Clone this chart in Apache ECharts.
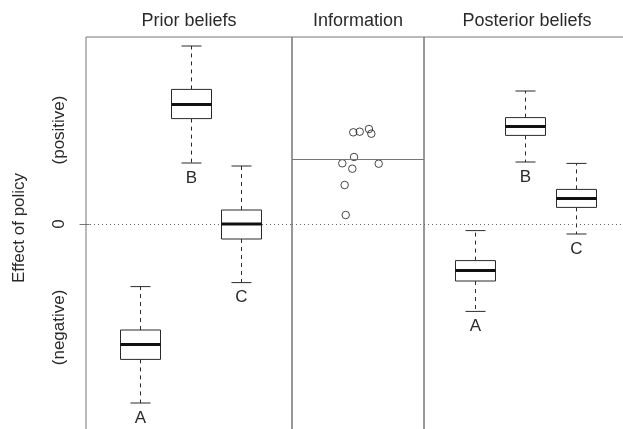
<!DOCTYPE html>
<html>
<head>
<meta charset="utf-8">
<script src="https://cdn.jsdelivr.net/npm/echarts@6/dist/echarts.min.js"></script>
<style>
  html, body { margin: 0; padding: 0; background: #fff; }
  #chart { width: 623px; height: 429px; }
</style>
</head>
<body>
<div id="chart"></div>
<script>
// Panel titles
const panelTitles = ['Prior beliefs', 'Information', 'Posterior beliefs'];

// Policies and their horizontal slots in the belief panels
const policyNames = ['A', 'B', 'C'];
const policySlots = [1, 2, 3];

// Box summaries: [lower whisker, lower quartile, median, upper quartile, upper whisker]
const priorA = [-8.95, -6.77, -6.03, -5.30, -3.13];
const priorB = [3.05, 5.27, 5.98, 6.73, 8.90];
const priorC = [-2.93, -0.75, 0.00, 0.70, 2.90];

const posteriorA = [-4.37, -2.85, -2.33, -1.83, -0.33];
const posteriorB = [3.10, 4.43, 4.88, 5.32, 6.65];
const posteriorC = [-0.50, 0.83, 1.27, 1.73, 3.03];

// Observed pieces of information (jittered horizontal position, effect)
const infoX = [0.464, 0.513, 0.583, 0.601, 0.470, 0.381, 0.657, 0.457, 0.399, 0.407];
const infoY = [4.585, 4.615, 4.75, 4.515, 3.35, 3.035, 3.015, 2.765, 1.95, 0.45];
const infoLevel = 3.23;

// Effect axis
const effectMin = -11.65;
const effectMax = 9.35;
const effectTickValues = [-5.17, 0, 4.7];
const effectTickLabels = ['(negative)', '0', '(positive)'];

const FONT = '"Liberation Sans", Arial, Helvetica, sans-serif';
const FRAME = '#777';
const INK = '#2a2a2a';

function boxRows(boxes) {
  return boxes.map((b, i) => [policySlots[i]].concat(b).concat([policyNames[i]]));
}

function renderBox(params, api) {
  const x = api.value(0);
  const lo = api.coord([x, api.value(1)]);
  const q1 = api.coord([x, api.value(2)]);
  const md = api.coord([x, api.value(3)]);
  const q3 = api.coord([x, api.value(4)]);
  const hi = api.coord([x, api.value(5)]);
  const cx = Math.round(lo[0]) + 0.5;
  const boxHalf = 20;
  const capHalf = 10;
  const dash = { stroke: INK, lineWidth: 1, lineDash: [4, 4] };
  const solid = { stroke: INK, lineWidth: 1 };
  return {
    type: 'group',
    children: [
      { type: 'line', shape: { x1: cx, y1: q3[1], x2: cx, y2: hi[1] }, style: dash },
      { type: 'line', shape: { x1: cx, y1: q1[1], x2: cx, y2: lo[1] }, style: dash },
      { type: 'line', shape: { x1: cx - capHalf, y1: hi[1], x2: cx + capHalf, y2: hi[1] }, style: solid },
      { type: 'line', shape: { x1: cx - capHalf, y1: lo[1], x2: cx + capHalf, y2: lo[1] }, style: solid },
      { type: 'rect', shape: { x: cx - boxHalf, y: q3[1], width: 2 * boxHalf, height: q1[1] - q3[1] },
        style: { fill: '#fff', stroke: INK, lineWidth: 1 } },
      { type: 'line', shape: { x1: cx - boxHalf, y1: md[1], x2: cx + boxHalf, y2: md[1] },
        style: { stroke: '#111', lineWidth: 3 } },
      { type: 'text', x: cx, y: lo[1] + 15,
        style: { text: api.value(6), fill: INK, font: '17px ' + FONT, align: 'center', verticalAlign: 'middle' } }
    ]
  };
}

// Dotted reference line at zero effect, kept beneath the boxes
function zeroSeries(idx) {
  return {
    type: 'line', xAxisIndex: idx, yAxisIndex: idx, data: [], z: 1, silent: true,
    markLine: {
      silent: true, symbol: 'none', z: 1,
      label: { show: false },
      lineStyle: { color: '#666', width: 1, type: [1, 3] },
      data: [{ yAxis: 0 }]
    }
  };
}

const gridBase = { top: 37, height: 420, show: true, borderColor: FRAME, borderWidth: 1,
  backgroundColor: 'transparent', containLabel: false, outerBoundsMode: 'none' };

function topAxis(idx, min, max) {
  return {
    type: 'value', gridIndex: idx, position: 'top', min: min, max: max,
    name: panelTitles[idx], nameLocation: 'middle', nameGap: 7,
    nameTextStyle: { fontSize: 18, color: INK, fontFamily: FONT },
    axisLine: { show: false }, axisTick: { show: false }, axisLabel: { show: false },
    splitLine: { show: false }
  };
}

function sideAxis(idx) {
  return {
    type: 'value', gridIndex: idx, min: effectMin, max: effectMax,
    axisLine: { show: false }, axisTick: { show: false }, axisLabel: { show: false },
    splitLine: { show: false }
  };
}

const chart = echarts.init(document.getElementById('chart'), null, { renderer: 'canvas' });

const effectAxis = Object.assign(sideAxis(0), {
  name: 'Effect of policy', nameLocation: 'middle', nameGap: 58,
  nameTextStyle: { fontSize: 17, color: INK, fontFamily: FONT, padding: [0, 0, 0, 38] },
  axisTick: { show: true, length: 10, customValues: [0], lineStyle: { color: FRAME, type: 'solid' } },
  axisLabel: {
    show: true, rotate: 90, margin: 18, fontSize: 17, color: INK, fontFamily: FONT,
    customValues: effectTickValues,
    formatter: v => effectTickLabels[effectTickValues.indexOf(v)]
  }
});

chart.setOption({
  animation: false,
  backgroundColor: '#fff',
  grid: [
    Object.assign({ left: 86, width: 206 }, gridBase),
    Object.assign({ left: 292, width: 132 }, gridBase),
    Object.assign({ left: 424, width: 206 }, gridBase)
  ],
  xAxis: [topAxis(0, -0.07, 4.01), topAxis(1, 0, 1), topAxis(2, 0, 4.07)],
  yAxis: [effectAxis, sideAxis(1), sideAxis(2)],
  series: [
    zeroSeries(0),
    zeroSeries(1),
    zeroSeries(2),
    {
      type: 'custom', xAxisIndex: 0, yAxisIndex: 0,
      dimensions: ['slot', 'lo', 'q1', 'med', 'q3', 'hi', 'name'],
      encode: { x: 0, y: [1, 2, 3, 4, 5] },
      data: boxRows([priorA, priorB, priorC]),
      renderItem: renderBox,
      z: 3
    },
    {
      type: 'scatter', xAxisIndex: 1, yAxisIndex: 1,
      data: infoX.map((x, i) => [x, infoY[i]]),
      symbol: 'circle', symbolSize: 7.5,
      itemStyle: { color: 'rgba(0,0,0,0)', borderColor: '#1a1a1a', borderWidth: 1 },
      markLine: {
        silent: true, symbol: 'none', label: { show: false },
        data: [
          { yAxis: infoLevel, lineStyle: { color: FRAME, width: 1, type: 'solid' } }
        ]
      },
      z: 3
    },
    {
      type: 'custom', xAxisIndex: 2, yAxisIndex: 2,
      dimensions: ['slot', 'lo', 'q1', 'med', 'q3', 'hi', 'name'],
      encode: { x: 0, y: [1, 2, 3, 4, 5] },
      data: boxRows([posteriorA, posteriorB, posteriorC]),
      renderItem: renderBox,
      z: 3
    }
  ]
});
</script>
</body>
</html>
